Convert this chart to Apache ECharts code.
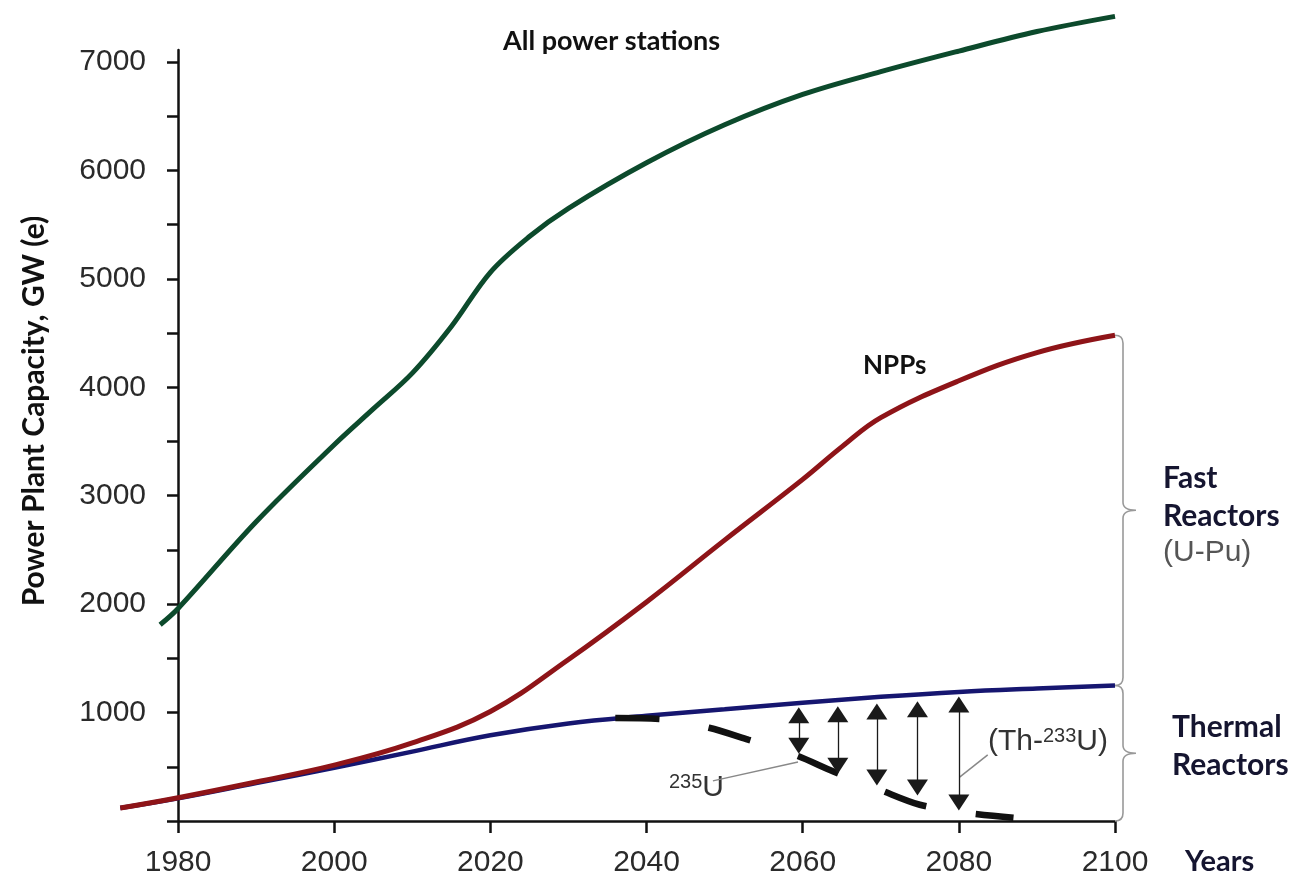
<!DOCTYPE html>
<html>
<head>
<meta charset="utf-8">
<script src="https://cdn.jsdelivr.net/npm/echarts@6/dist/echarts.min.js"></script>
<style>
  html, body { margin: 0; padding: 0; background: #fff; }
  #chart { width: 1312px; height: 875px; }
</style>
</head>
<body>
<div id="chart"></div>
<script>
// [year, GW(e)]
const allStations = [
  [1977.7, 1810], [1980, 1960], [1990, 2760], [2000, 3470], [2005, 3800], [2010, 4130],
  [2015, 4560], [2020, 5060], [2025, 5390], [2030, 5650], [2040, 6070], [2050, 6420],
  [2060, 6700], [2070, 6910], [2080, 7100], [2090, 7280], [2100, 7420]
]
const npps = [
  [1972.6, 120], [1980, 215], [1990, 360], [2000, 515], [2010, 720], [2020, 1010],
  [2030, 1490], [2040, 2020], [2050, 2590], [2060, 3150], [2065, 3450], [2070, 3720],
  [2080, 4060], [2090, 4320], [2100, 4480]
]
const thermal = [
  [1972.6, 120], [1980, 210], [1990, 350], [2000, 490], [2010, 640], [2020, 790],
  [2030, 900], [2040, 970], [2050, 1030], [2060, 1090], [2070, 1145], [2080, 1190],
  [2090, 1222], [2100, 1250]
]
const u235 = [
  [2036, 950], [2042, 940], [2048, 860], [2053, 750], [2059, 610], [2064, 455],
  [2070, 285], [2075, 150], [2081, 75], [2087, 30]
]
// double arrows between thermal curve and 235U curve: year, upper end, lower end
const arrowYears = [2059.5, 2064.5, 2069.5, 2074.7, 2080]
const arrowTop = [975, 985, 1010, 1030, 1075]
const arrowBottom = [695, 510, 400, 310, 170]
// leader lines for the two labels
const leaders = [
  [[2048.5, 370], [2059.4, 545]],
  [[2083.7, 610], [2080.1, 405]]
]
// braces on the right: [low, high]
const braces = [[0, 1250], [1250, 4480]]
const xLabelValues = [1980, 2000, 2020, 2040, 2060, 2080, 2100]
const yLabelValues = [1000, 2000, 3000, 4000, 5000, 6000, 7000]
const yTickValues = [0, 500, 1000, 1500, 2000, 2500, 3000, 3500, 4000, 4500, 5000, 5500, 6000, 6500, 7000]

const chart = echarts.init(document.getElementById('chart'), null, { renderer: 'canvas' })

const labelFont = '"Liberation Sans", Arial, sans-serif'
const boldFont = 'Lato, "Open Sans", sans-serif'

const option = {
  animation: false,
  // x axis starts before 1980 so the early parts of the curves fit; the y axis sits at 1980
  grid: { left: 100, right: 197, top: 50, bottom: 54, outerBoundsMode: 'none' },
  xAxis: {
    type: 'value',
    min: 1970,
    max: 2100,
    splitLine: { show: false },
    axisLine: { show: false },
    axisTick: { length: 12, customValues: xLabelValues, lineStyle: { color: '#111', width: 2.5 } },
    axisLabel: {
      customValues: xLabelValues, color: '#2a2a2a', fontSize: 30, fontFamily: labelFont, margin: 27,
      formatter: v => String(v)
    }
  },
  yAxis: {
    type: 'value',
    min: 0,
    max: 7110,
    offset: -78,
    splitLine: { show: false },
    axisLine: { lineStyle: { color: '#111', width: 2.5 } },
    axisTick: { length: 11, customValues: yTickValues, lineStyle: { color: '#111', width: 2.5 } },
    axisLabel: {
      customValues: yLabelValues, color: '#2a2a2a', fontSize: 30, fontFamily: labelFont, margin: 32,
      formatter: v => String(v)
    }
  },
  graphic: [
    {
      type: 'text', x: 34, y: 411, rotation: Math.PI / 2,
      style: {
        text: 'Power Plant Capacity, GW (e)', fill: '#111', font: 'bold 30px ' + boldFont,
        align: 'center', verticalAlign: 'middle'
      }
    },
    {
      type: 'text', x: 503, y: 41,
      style: { text: 'All power stations', fill: '#111', font: 'bold 27px ' + boldFont, verticalAlign: 'middle' }
    },
    {
      type: 'text', x: 863, y: 366,
      style: { text: 'NPPs', fill: '#111', font: 'bold 26px ' + boldFont, verticalAlign: 'middle' }
    },
    {
      type: 'text', x: 1185, y: 862,
      style: { text: 'Years', fill: '#151530', font: 'bold 29px ' + boldFont, verticalAlign: 'middle' }
    },
    {
      type: 'text', x: 1163, y: 459,
      style: {
        text: '{b|Fast}\n{b|Reactors}\n{g|(U-Pu)}',
        rich: {
          b: { fontFamily: boldFont, fontWeight: 'bold', fontSize: 30, lineHeight: 38, fill: '#151530' },
          g: { fontFamily: labelFont, fontSize: 30, lineHeight: 36, fill: '#555' }
        }
      }
    },
    {
      type: 'text', x: 1172, y: 708,
      style: {
        text: '{b|Thermal}\n{b|Reactors}',
        rich: { b: { fontFamily: boldFont, fontWeight: 'bold', fontSize: 30, lineHeight: 38, fill: '#151530' } }
      }
    },
    {
      type: 'text', x: 669, y: 772,
      style: {
        text: '{s|235}{u|U}',
        rich: {
          s: { fontFamily: labelFont, fontSize: 20, lineHeight: 32, verticalAlign: 'top', fill: '#333' },
          u: { fontFamily: labelFont, fontSize: 30, lineHeight: 32, fill: '#333' }
        }
      }
    },
    {
      type: 'text', x: 988, y: 726,
      style: {
        text: '{u|(Th-}{s|233}{u|U)}',
        rich: {
          s: { fontFamily: labelFont, fontSize: 20, lineHeight: 32, verticalAlign: 'top', fill: '#333' },
          u: { fontFamily: labelFont, fontSize: 30, lineHeight: 32, fill: '#333' }
        }
      }
    }
  ],
  series: [
    {
      name: 'Thermal reactors',
      type: 'line',
      data: thermal,
      smooth: 0.4,
      clip: false,
      symbol: 'none',
      lineStyle: { color: '#161670', width: 4.5 },
      z: 2,
      markLine: {
        silent: true,
        symbol: 'none',
        label: { show: false },
        lineStyle: { color: '#888', width: 1.5, type: 'solid' },
        data: leaders.map(l => [{ coord: l[0] }, { coord: l[1] }])
      }
    },
    {
      name: 'NPPs',
      type: 'line',
      data: npps,
      smooth: 0.4,
      clip: false,
      symbol: 'none',
      lineStyle: { color: '#8e1418', width: 5 },
      z: 3,
      // x axis line, drawn from 1980 to 2100 only
      markLine: {
        silent: true,
        symbol: 'none',
        label: { show: false },
        lineStyle: { color: '#111', width: 2.5, type: 'solid' },
        data: [[{ coord: [1980, 0] }, { coord: [2100, 0] }]]
      }
    },
    {
      name: 'All power stations',
      type: 'line',
      data: allStations,
      smooth: 0.35,
      clip: false,
      symbol: 'none',
      lineStyle: { color: '#0c4a2c', width: 5 },
      z: 3
    },
    {
      name: '235U',
      type: 'line',
      data: u235,
      smooth: 0.3,
      clip: false,
      symbol: 'none',
      lineStyle: { color: '#111', width: 6.5, type: [44, 50], cap: 'butt' },
      z: 4,
      markLine: {
        silent: true,
        symbol: ['triangle', 'triangle'],
        symbolSize: [21, 16],
        label: { show: false },
        lineStyle: { color: '#1a1a1a', width: 1.3, type: 'solid' },
        data: arrowYears.map((yr, i) => [{ coord: [yr, arrowTop[i]] }, { coord: [yr, arrowBottom[i]] }])
      }
    },
    {
      name: 'braces',
      type: 'custom',
      data: braces,
      clip: false,
      silent: true,
      z: 1,
      renderItem: (params, api) => {
        const lo = api.coord([2100, api.value(0)])
        const hi = api.coord([2100, api.value(1)])
        const x0 = lo[0], x1 = x0 + 8, tip = x0 + 21
        const yt = hi[1], yb = lo[1], ym = (yt + yb) / 2, r = 8
        const d = `M${x0},${yt} Q${x1},${yt} ${x1},${yt + r} L${x1},${ym - r} Q${x1},${ym} ${tip},${ym} ` +
          `Q${x1},${ym} ${x1},${ym + r} L${x1},${yb - r} Q${x1},${yb} ${x0},${yb}`
        return {
          type: 'path',
          shape: { pathData: d },
          style: { fill: 'none', stroke: '#999', lineWidth: 1.6 }
        }
      }
    }
  ]
}

chart.setOption(option)
window.addEventListener('resize', () => chart.resize())
</script>
</body>
</html>
